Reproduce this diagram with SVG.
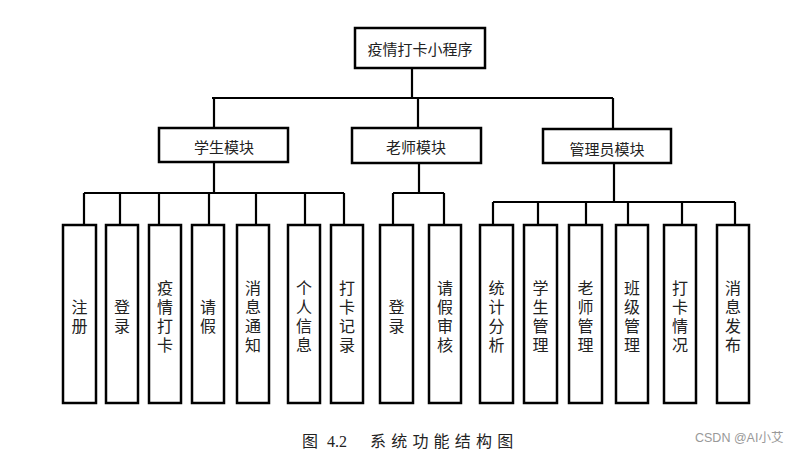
<svg xmlns="http://www.w3.org/2000/svg" width="802" height="455" viewBox="0 0 802 455">
<style>
.box{fill:#fff;stroke:#000;stroke-width:2.5}
.ln{fill:none;stroke:#000;stroke-width:2.2}
.t{font-family:"Noto Sans CJK SC","Liberation Sans",sans-serif;font-size:15px;fill:#222;text-anchor:middle;dominant-baseline:central}
.v{font-family:"Noto Sans CJK SC","Liberation Sans",sans-serif;font-size:16px;fill:#222;text-anchor:middle;writing-mode:vertical-rl;text-orientation:upright;letter-spacing:3px}
.cap{font-family:"Liberation Serif","Noto Sans CJK SC",serif;font-size:16px;fill:#222;dominant-baseline:central}
</style>
<rect width="802" height="455" fill="#fff"/>
<g id="connectors">
<path class="ln" d="M412 68V98M212 98H613M214 98V128M418 98V128M613 98V129"/>
<path class="ln" d="M214 162V193M84 193H344M84 193V225M120 193V225M159 193V225M209 193V225M256 193V225M305 193V225M344 193V225"/>
<path class="ln" d="M419 163V193M393 193H444M393 193V225M444 193V225"/>
<path class="ln" d="M614 163V202M493 202H735M493 202V225M538 202V225M586 202V225M628 202V225M682 202V225M735 202V225"/>
</g>
<g id="root"><rect class="box" x="355" y="28" width="130" height="40"/><text class="t" x="420" y="48">疫情打卡小程序</text></g>
<g id="student"><rect class="box" x="159" y="128" width="129" height="34"/><text class="t" x="224" y="146">学生模块</text></g>
<g id="teacher"><rect class="box" x="352" y="128" width="129" height="35"/><text class="t" x="416" y="146">老师模块</text></g>
<g id="admin"><rect class="box" x="543" y="129" width="128" height="34"/><text class="t" x="607" y="148">管理员模块</text></g>
<g id="s1"><rect class="box" x="63" y="225" width="33" height="178"/><text class="v" x="79.5" y="318">注册</text></g>
<g id="s2"><rect class="box" x="106" y="225" width="32" height="178"/><text class="v" x="122" y="318">登录</text></g>
<g id="s3"><rect class="box" x="149" y="225" width="32" height="178"/><text class="v" x="165" y="318">疫情打卡</text></g>
<g id="s4"><rect class="box" x="192" y="225" width="32" height="178"/><text class="v" x="208" y="318">请假</text></g>
<g id="s5"><rect class="box" x="237" y="225" width="32" height="178"/><text class="v" x="253" y="318">消息通知</text></g>
<g id="s6"><rect class="box" x="288" y="225" width="32" height="178"/><text class="v" x="304" y="318">个人信息</text></g>
<g id="s7"><rect class="box" x="331" y="225" width="32" height="178"/><text class="v" x="347" y="318">打卡记录</text></g>
<g id="t1"><rect class="box" x="380" y="225" width="33" height="178"/><text class="v" x="396.5" y="318">登录</text></g>
<g id="t2"><rect class="box" x="429" y="225" width="32" height="178"/><text class="v" x="445" y="318">请假审核</text></g>
<g id="a1"><rect class="box" x="480" y="225" width="33" height="178"/><text class="v" x="496.5" y="318">统计分析</text></g>
<g id="a2"><rect class="box" x="524" y="225" width="33" height="178"/><text class="v" x="540.5" y="318">学生管理</text></g>
<g id="a3"><rect class="box" x="569" y="225" width="33" height="178"/><text class="v" x="585.5" y="318">老师管理</text></g>
<g id="a4"><rect class="box" x="616" y="225" width="32" height="178"/><text class="v" x="632" y="318">班级管理</text></g>
<g id="a5"><rect class="box" x="664" y="225" width="32" height="178"/><text class="v" x="680" y="318">打卡情况</text></g>
<g id="a6"><rect class="box" x="717" y="225" width="32" height="178"/><text class="v" x="733" y="318">消息发布</text></g>
<text class="cap" x="302" y="441">图</text>
<text class="cap" x="327" y="441" font-size="17">4.2</text>
<text class="cap" x="370" y="441" letter-spacing="5.2">系统功能结构图</text>
<text x="695" y="438" font-family="'Liberation Sans','Noto Sans CJK SC',sans-serif" font-size="12.5" fill="#999" dominant-baseline="central">CSDN @AI小艾</text>
</svg>
